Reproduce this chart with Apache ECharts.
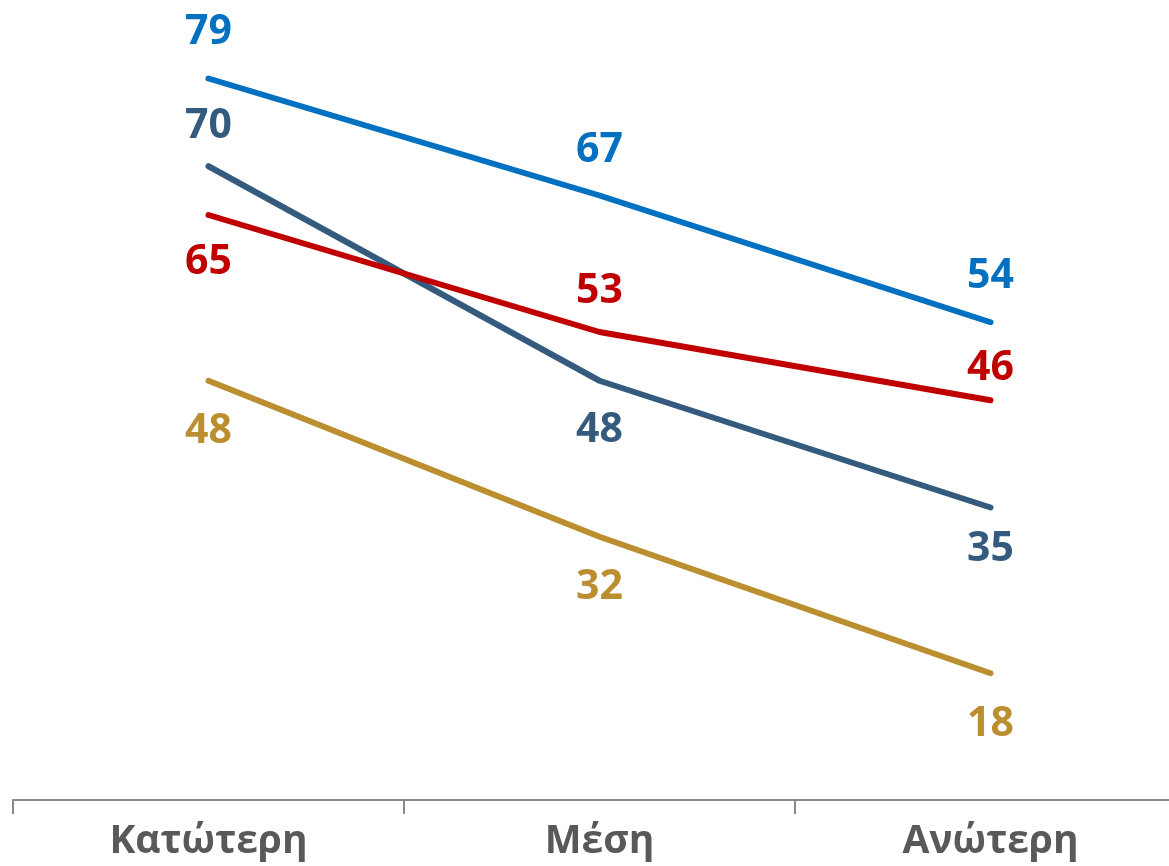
<!DOCTYPE html>
<html>
<head>
<meta charset="utf-8">
<script src="https://cdn.jsdelivr.net/npm/echarts@6/dist/echarts.min.js"></script>
<style>
  html, body { margin: 0; padding: 0; background: #fff; overflow: hidden; }
  /* the plot runs a little past the right edge of the picture */
  #chart { width: 1186px; height: 866px; }
</style>
</head>
<body>
<div id="chart"></div>
<script>
// δεδομένα
const categories = ['Κατώτερη', 'Μέση', 'Ανώτερη'];
const blueVals = [79, 67, 54];
const slateVals = [70, 48, 35];
const redVals = [65, 53, 46];
const goldVals = [48, 32, 18];

const colors = {
    blue: '#0070C0',
    slate: '#345B7D',
    red: '#C00000',
    gold: '#BB8F30'
};

// label offsets (vertical, px) from each point
const offBlue = [-46, -45, -46];
const offSlate = [-40, 50, 42];
const offRed = [47, -41, -32];
const offGold = [51, 51, 51];

function makeSeries(name, vals, color, offs) {
    var data = [];
    for (var i = 0; i < vals.length; i++) {
        data.push({
            value: vals[i],
            label: { offset: [0, offs[i]] }
        });
    }
    return {
        name: name,
        type: 'line',
        data: data,
        symbol: 'circle',
        symbolSize: 0,
        lineStyle: { color: color, width: 6, cap: 'round', join: 'round' },
        itemStyle: { color: color },
        label: {
            show: true,
            position: 'inside',
            color: color,
            fontFamily: 'Open Sans',
            fontWeight: 'bold',
            fontSize: 41
        },
        emphasis: { disabled: true },
        animation: false
    };
}

var myChart = echarts.init(document.getElementById('chart'));

var option = {
    backgroundColor: '#ffffff',
    grid: { left: 13, top: 20, right: 0, bottom: 66, containLabel: false },
    xAxis: {
        type: 'category',
        data: categories,
        boundaryGap: true,
        axisLine: { show: true, lineStyle: { color: '#898989', width: 2 } },
        axisTick: { show: true, length: 14, lineStyle: { color: '#898989', width: 2 } },
        axisLabel: {
            color: '#595959',
            fontFamily: 'Open Sans',
            fontWeight: 'bold',
            fontSize: 39,
            margin: 22
        }
    },
    yAxis: {
        type: 'value',
        min: 5,
        max: 85,
        show: false,
        splitLine: { show: false }
    },
    series: [
        makeSeries('blue', blueVals, colors.blue, offBlue),
        makeSeries('slate', slateVals, colors.slate, offSlate),
        makeSeries('red', redVals, colors.red, offRed),
        makeSeries('gold', goldVals, colors.gold, offGold)
    ]
};

myChart.setOption(option);
</script>
</body>
</html>
